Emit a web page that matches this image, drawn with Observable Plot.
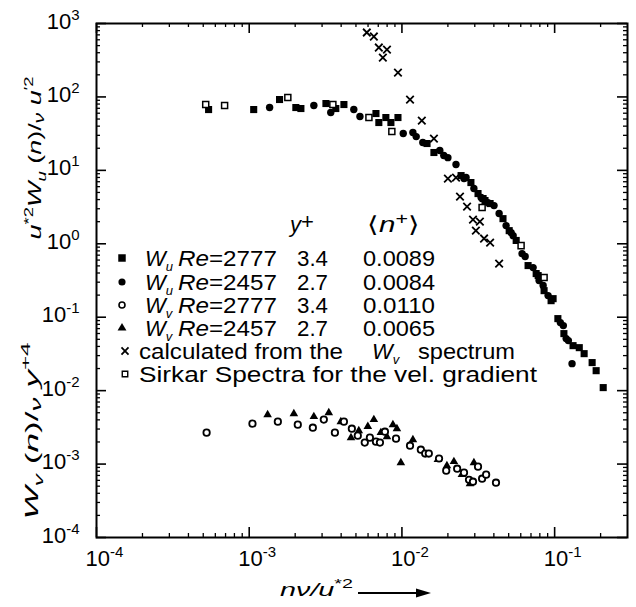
<!DOCTYPE html>
<html><head><meta charset="utf-8">
<script src="https://cdn.jsdelivr.net/npm/d3@7"></script>
<script src="https://cdn.jsdelivr.net/npm/@observablehq/plot@0.6"></script>
<style>body{margin:0;background:#fff;} #chart svg{display:block;}</style>
</head><body><div id="chart"></div>
<script>
// ---- data ----
// W_u, Re = 2777 (filled squares)
const wu2777 = [[5.42e-4,67.3],[1.07e-3,67.3],[1.58e-3,92.2],[2.02e-3,71.7],[2.18e-3,69.5],[3.18e-3,81.3],[3.69e-3,69.5],[4.17e-3,78.8],[6.76e-3,59.4],[7.06e-3,44.8],[7.85e-3,52.4],[8.47e-3,44.8],[9.42e-3,52.4],[1.46e-2,23.2],[1.62e-2,17.5],[2.44e-2,8.49],[2.83e-2,6.82],[3.15e-2,4.83],[3.40e-2,4.13],[3.50e-2,3.88],[3.78e-2,3.53],[4.59e-2,2.20],[5.04e-2,1.51],[5.60e-2,1.11],[6.70e-2,0.505],[7.57e-2,0.393],[7.80e-2,0.369],[8.53e-2,0.230],[9.48e-2,0.168],[9.77e-2,0.179],[0.105,0.0957],[0.115,0.0598],[0.132,0.0410],[0.145,0.0385],[0.156,0.0319],[0.176,0.0241],[0.187,0.0187],[0.208,0.0110]];
// W_u, Re = 2457 (filled circles)
const wu2457 = [[1.36e-3,71.7],[2.65e-3,76.4],[3.42e-3,61.3],[4.84e-3,67.3],[5.31e-3,54.1],[1.02e-2,31.7],[1.18e-2,32.7],[1.24e-2,28.8],[1.37e-2,23.9],[1.77e-2,18.6],[1.88e-2,15.9],[2.00e-2,14.9],[2.26e-2,12.0],[2.55e-2,7.73],[2.63e-2,7.98],[2.96e-2,5.65],[3.30e-2,4.26],[3.66e-2,3.64],[4.01e-2,3.31],[4.33e-2,2.58],[4.81e-2,1.77],[5.19e-2,1.42],[5.35e-2,1.29],[6.12e-2,0.735],[6.41e-2,0.670],[7.23e-2,0.474],[7.91e-2,0.316],[8.41e-2,0.270],[9.06e-2,0.197],[0.109,0.0844],[0.114,0.0769],[0.119,0.0511],[0.123,0.0480],[0.130,0.0233]];
// W_v, Re = 2777 (open circles)
const wv2777 = [[5.26e-4,2.68e-3],[1.05e-3,3.55e-3],[1.54e-3,3.78e-3],[2.08e-3,3.44e-3],[2.61e-3,3.13e-3],[3.08e-3,4.03e-3],[3.64e-3,2.68e-3],[4.17e-3,3.78e-3],[4.70e-3,3.03e-3],[5.14e-3,2.44e-3],[5.71e-3,1.96e-3],[6.17e-3,2.29e-3],[6.76e-3,2.02e-3],[7.18e-3,1.96e-3],[7.74e-3,2.76e-3],[9.15e-3,2.22e-3],[1.13e-2,1.78e-3],[1.33e-2,1.57e-3],[1.42e-2,1.39e-3],[1.50e-2,1.39e-3],[1.75e-2,1.19e-3],[1.95e-2,8.13e-4],[2.30e-2,8.65e-4],[2.55e-2,7.64e-4],[2.75e-2,6.12e-4],[2.92e-2,5.75e-4],[3.15e-2,9.23e-4],[3.35e-2,6.32e-4],[3.56e-2,7.18e-4],[4.13e-2,5.58e-4]];
// W_v, Re = 2457 (filled triangles)
const wv2457 = [[1.32e-3,4.71e-3],[1.96e-3,4.86e-3],[2.65e-3,4.43e-3],[3.32e-3,5.01e-3],[3.98e-3,3.78e-3],[4.64e-3,2.29e-3],[5.22e-3,2.85e-3],[5.98e-3,3.24e-3],[6.55e-3,4.03e-3],[7.28e-3,2.68e-3],[7.98e-3,2.36e-3],[8.73e-3,3.44e-3],[9.27e-3,3.03e-3],[9.84e-3,1.04e-3],[1.18e-2,2.15e-3],[1.72e-2,1.15e-3],[1.97e-2,9.51e-4],[2.19e-2,1.08e-3],[2.47e-2,7.18e-4],[2.79e-2,5.41e-4],[2.96e-2,1.04e-3]];
// calculated from the W_v spectrum (crosses)
const calcWv = [[5.89e-3,754],[6.55e-3,665],[7.06e-3,471],[7.98e-3,442],[7.50e-3,344],[9.42e-3,215],[1.13e-2,92.2],[1.35e-2,47.7],[1.62e-2,27.1],[2.00e-2,7.73],[2.26e-2,7.98],[2.40e-2,4.40],[2.67e-2,3.21],[2.92e-2,2.14],[3.24e-2,2.00],[3.05e-2,1.51],[3.45e-2,1.18],[3.78e-2,1.04],[4.33e-2,0.537]];
// Sirkar spectra for the velocity gradient (open squares)
const sirkar = [[5.19e-4,78.8],[6.90e-4,76.4],[1.79e-3,98.2],[3.53e-3,78.8],[6.08e-3,52.4],[8.59e-3,33.8],[3.35e-2,3.11],[6.03e-2,0.944],[8.53e-2,0.347]];

const xDomain = [1e-4, 0.3];
const yDomain = [1e-4, 1e3];
const xMajor = [1e-4, 1e-3, 1e-2, 1e-1];
const yMajor = [1e-4, 1e-3, 1e-2, 1e-1, 1, 10, 100, 1000];
const legendRows = [
  {sym: "fsquare", w: "u", re: "Re=2777", yp: "3.4", n: "0.0089"},
  {sym: "fcircle", w: "u", re: "Re=2457", yp: "2.7", n: "0.0084"},
  {sym: "ocircle", w: "v", re: "Re=2777", yp: "3.4", n: "0.0110"},
  {sym: "triangle", w: "v", re: "Re=2457", yp: "2.7", n: "0.0065"}
];

// minor ticks
function minors(lo, hi) {
  const out = [];
  for (let e = Math.floor(Math.log10(lo)); e <= Math.ceil(Math.log10(hi)); e++)
    for (let m = 2; m <= 9; m++) { const v = m * Math.pow(10, e); if (v > lo * 1.0001 && v < hi * 0.9999) out.push(v); }
  return out;
}
const xMinor = minors(...xDomain);
const yMinor = minors(...yDomain);

const W = 636, H = 607, mL = 96, mR = 9, mT = 23, mB = 70;
const fw = W - mL - mR, fh = H - mT - mB;
const FONT = "'Liberation Sans', Arial, sans-serif";
const expFmt = d => String(Math.round(Math.log10(d)));

const plot = Plot.plot({
  width: W, height: H,
  marginLeft: mL, marginRight: mR, marginTop: mT, marginBottom: mB,
  style: {fontFamily: FONT, fontSize: "22px", background: "white", color: "black"},
  x: {type: "log", domain: xDomain},
  y: {type: "log", domain: yDomain},
  marks: [
    Plot.axisX({anchor: "bottom", ticks: xMajor, tickSize: 0, tickPadding: 13, tickFormat: expFmt, label: null}),
    Plot.axisY({anchor: "left", ticks: yMajor, tickSize: 0, tickPadding: 17, tickFormat: expFmt, label: null, dy: -2}),
    // inward ticks on all four sides
    Plot.ruleY(yMajor, {y: d => d, insetRight: fw - 10, strokeWidth: 1.6}),
    Plot.ruleY(yMajor, {y: d => d, insetLeft: fw - 10, strokeWidth: 1.6}),
    Plot.ruleY(yMinor, {y: d => d, insetRight: fw - 4, strokeWidth: 1.3}),
    Plot.ruleY(yMinor, {y: d => d, insetLeft: fw - 4, strokeWidth: 1.3}),
    Plot.ruleX(xMajor, {x: d => d, insetTop: fh - 10, strokeWidth: 1.6}),
    Plot.ruleX(xMajor, {x: d => d, insetBottom: fh - 10, strokeWidth: 1.6}),
    Plot.ruleX(xMinor, {x: d => d, insetTop: fh - 4, strokeWidth: 1.3}),
    Plot.ruleX(xMinor, {x: d => d, insetBottom: fh - 4, strokeWidth: 1.3}),
    Plot.frame({strokeWidth: 2}),
    // data
    Plot.dot(wu2777, {x: d => d[0], y: d => d[1], symbol: "square", fill: "black", r: 4}),
    Plot.dot(wu2457, {x: d => d[0], y: d => d[1], symbol: "circle", fill: "black", r: 3.7}),
    Plot.dot(wv2457, {x: d => d[0], y: d => d[1], symbol: "triangle", fill: "black", r: 3.2}),
    Plot.dot(wv2777, {x: d => d[0], y: d => d[1], symbol: "circle", fill: "white", stroke: "black", strokeWidth: 1.8, r: 3.2}),
    Plot.dot(calcWv, {x: d => d[0], y: d => d[1], symbol: "times", stroke: "black", strokeWidth: 1.8, r: 3.5}),
    Plot.dot(sirkar, {x: d => d[0], y: d => d[1], symbol: "square", fill: "white", stroke: "black", strokeWidth: 1.5, r: 3.4})
  ]
});
document.getElementById("chart").appendChild(plot);

const svg = d3.select(plot);
// superscript exponents in tick labels
svg.selectAll('g[aria-label="y-axis tick label"] text, g[aria-label="x-axis tick label"] text').each(function () {
  const t = d3.select(this);
  const e = t.text();
  t.text("10");
  t.append("tspan").attr("dy", -9).attr("font-size", 15).text(e);
});
svg.selectAll('g[aria-label="x-axis tick label"] text').each(function () {
  const t = d3.select(this);
  const n = t.select("tspan").text().length;
  t.attr("dx", n * 4);
});

// legend
const g = svg.append("g").attr("font-family", FONT).attr("font-size", 22).attr("fill", "black").attr("text-anchor", "start");
const symX = 122;
const rowsY = [258, 282, 305, 328, 351, 374];
function drawSym(kind, x, y) {
  const s = g.append("path").attr("transform", `translate(${x},${y})`);
  if (kind === "fsquare") s.attr("d", d3.symbol(d3.symbolSquare, 56)()).attr("fill", "black");
  if (kind === "fcircle") s.attr("d", d3.symbol(d3.symbolCircle, 40)()).attr("fill", "black");
  if (kind === "ocircle") s.attr("d", d3.symbol(d3.symbolCircle, 28)()).attr("fill", "white").attr("stroke", "black").attr("stroke-width", 1.6);
  if (kind === "triangle") s.attr("d", d3.symbol(d3.symbolTriangle, 34)()).attr("fill", "black");
  if (kind === "times") s.attr("d", d3.symbol(d3.symbolTimes, 34)()).attr("fill", "none").attr("stroke", "black").attr("stroke-width", 1.8);
  if (kind === "osquare") s.attr("d", d3.symbol(d3.symbolSquare, 30)()).attr("fill", "white").attr("stroke", "black").attr("stroke-width", 1.4);
}
function txt(x, y, len) {
  const t = g.append("text").attr("x", x).attr("y", y).attr("text-anchor", "start");
  if (len) t.attr("textLength", len).attr("lengthAdjust", "spacingAndGlyphs");
  return t;
}
// header
{
  const t = txt(290, 232);
  t.append("tspan").attr("font-style", "italic").text("y");
  t.append("tspan").attr("dy", -3).text("+");
  const n = txt(367, 232, 53);
  n.append("tspan").text("⟨");
  n.append("tspan").attr("font-style", "italic").text("n");
  n.append("tspan").attr("dy", -8).attr("font-size", 16).text("+");
  n.append("tspan").attr("dy", 8).text("⟩");
}
legendRows.forEach((r, i) => {
  const cy = rowsY[i], by = cy + 8;
  drawSym(r.sym, symX, cy);
  const w = txt(145, by);
  w.append("tspan").attr("font-style", "italic").text("W");
  w.append("tspan").attr("font-style", "italic").attr("font-size", 13).attr("dy", 5).text(r.w);
  const re = txt(178, by, 99);
  re.append("tspan").attr("font-style", "italic").text(r.re.slice(0, 2));
  re.append("tspan").text(r.re.slice(2));
  txt(297, by, 31).text(r.yp);
  txt(363, by, 72).text(r.n);
});
{
  const cy = rowsY[4], by = cy + 8;
  drawSym("times", symX + 3, cy);
  txt(139, by, 204).text("calculated from the");
  const w = txt(372, by);
  w.append("tspan").attr("font-style", "italic").text("W");
  w.append("tspan").attr("font-style", "italic").attr("font-size", 13).attr("dy", 5).text("v");
  txt(418, by, 97).text("spectrum");
}
{
  const cy = rowsY[5], by = cy + 8;
  drawSym("osquare", symX + 3, cy);
  txt(139, by, 398).text("Sirkar Spectra for the vel. gradient");
}

// axis titles
const tg = svg.append("g").attr("font-family", FONT).attr("font-size", 19).attr("fill", "black");
{
  const t = tg.append("text").attr("transform", "translate(41,158) rotate(-90)").attr("text-anchor", "middle")
    .attr("textLength", 163).attr("lengthAdjust", "spacingAndGlyphs");
  t.append("tspan").attr("font-style", "italic").text("u");
  t.append("tspan").attr("dy", -8).attr("font-size", 13).text("*2");
  t.append("tspan").attr("dy", 8).attr("font-style", "italic").text("W");
  t.append("tspan").attr("dy", 5).attr("font-size", 13).attr("font-style", "italic").text("u");
  t.append("tspan").attr("dy", -5).text(" (");
  t.append("tspan").attr("font-style", "italic").text("n");
  t.append("tspan").text(")/");
  t.append("tspan").attr("dy", 3).attr("font-size", 15).attr("font-style", "italic").text("ν");
  t.append("tspan").attr("dy", -3).attr("font-style", "italic").text(" u");
  t.append("tspan").attr("dy", -8).attr("font-size", 13).text("′2");
}
{
  const t = tg.append("text").attr("transform", "translate(38,431) rotate(-90)").attr("text-anchor", "middle")
    .attr("textLength", 177).attr("lengthAdjust", "spacingAndGlyphs");
  t.append("tspan").attr("font-style", "italic").text("W");
  t.append("tspan").attr("dy", 5).attr("font-size", 13).attr("font-style", "italic").text("v");
  t.append("tspan").attr("dy", -5).text(" (");
  t.append("tspan").attr("font-style", "italic").text("n");
  t.append("tspan").text(")/");
  t.append("tspan").attr("dy", 3).attr("font-size", 15).attr("font-style", "italic").text("ν");
  t.append("tspan").attr("dy", -3).attr("font-style", "italic").text(" y");
  t.append("tspan").attr("dy", -8).attr("font-size", 13).text("+4");
}
{
  const t = tg.append("text").attr("x", 280).attr("y", 596).attr("text-anchor", "start")
    .attr("textLength", 73).attr("lengthAdjust", "spacingAndGlyphs");
  t.append("tspan").attr("font-style", "italic").text("nν/u");
  t.append("tspan").attr("dy", -8).attr("font-size", 13).text("*2");
  tg.append("line").attr("x1", 358).attr("x2", 418).attr("y1", 593).attr("y2", 593).attr("stroke", "black").attr("stroke-width", 2.2);
  tg.append("path").attr("d", "M416,588.5L431,593L416,597.5Z").attr("fill", "black");
}
</script>
</body></html>
